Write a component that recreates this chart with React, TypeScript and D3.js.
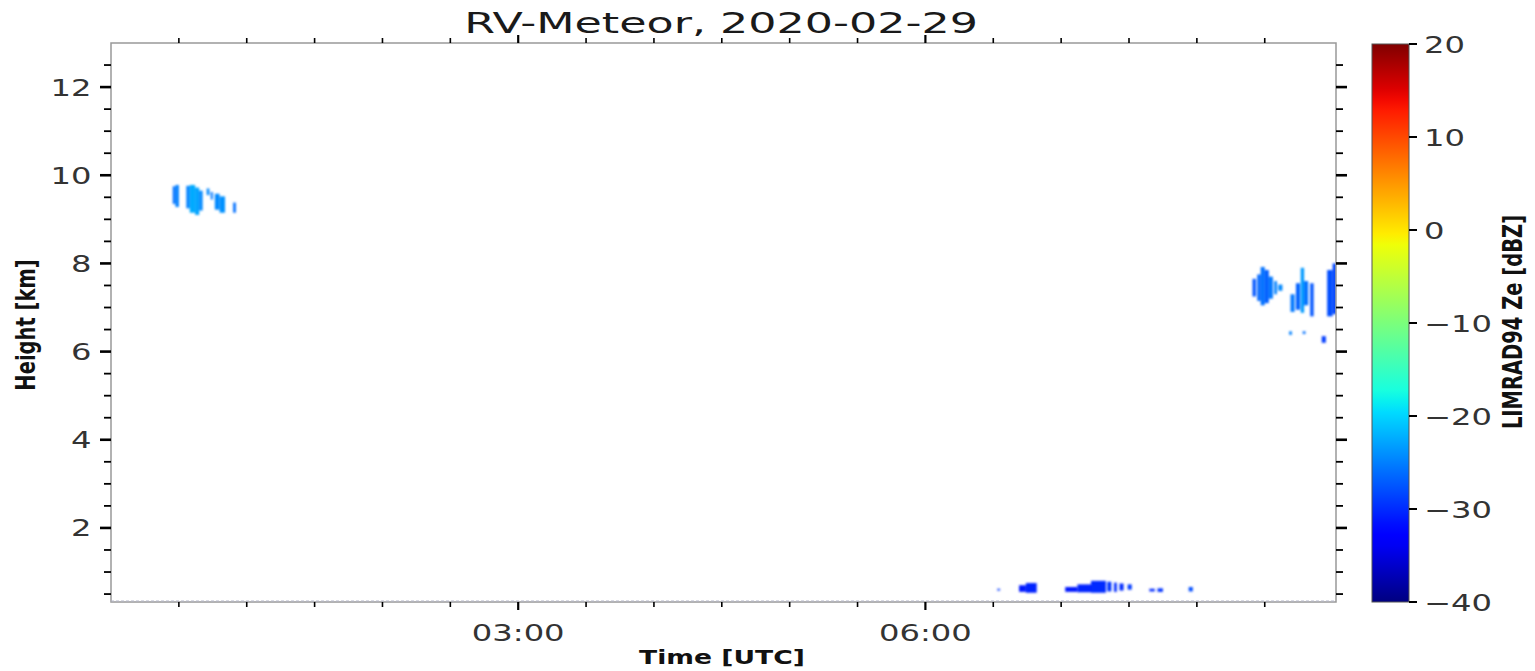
import React from 'react';
import * as d3 from 'd3';

// radar echoes: [start h, end h, base km, top km, Ze dBZ]
type Cell = [number, number, number, number, number];

const cirrusEarly: Cell[] = [
  [0.455, 0.475, 9.35, 9.75, -26],
  [0.475, 0.5, 9.28, 9.78, -25],
  [0.555, 0.58, 9.25, 9.76, -25],
  [0.58, 0.62, 9.15, 9.78, -22.5],
  [0.62, 0.65, 9.1, 9.72, -23],
  [0.65, 0.675, 9.2, 9.65, -24.5],
  [0.705, 0.725, 9.55, 9.7, -24.5],
  [0.735, 0.75, 9.45, 9.62, -25.5],
  [0.765, 0.8, 9.22, 9.58, -24.5],
  [0.8, 0.84, 9.15, 9.52, -24],
  [0.9, 0.92, 9.15, 9.38, -26],
];

const cirrusLate: Cell[] = [
  [8.41, 8.435, 7.25, 7.65, -27.5],
  [8.445, 8.47, 7.15, 7.75, -26.5],
  [8.47, 8.5, 7.05, 7.92, -26],
  [8.5, 8.53, 7.1, 7.85, -27],
  [8.53, 8.56, 7.2, 7.7, -25.5],
  [8.57, 8.59, 7.3, 7.6, -25],
  [8.6, 8.63, 7.38, 7.52, -24.5],
  [8.69, 8.72, 6.9, 7.3, -25.5],
  [8.73, 8.76, 6.95, 7.55, -27],
  [8.765, 8.79, 6.88, 7.9, -23.5],
  [8.79, 8.82, 7.05, 7.6, -26],
  [8.835, 8.86, 6.8, 7.55, -27.5],
  [8.96, 9.0, 6.8, 7.85, -28],
  [9.0, 9.03, 6.85, 8.0, -28.5],
  [8.68, 8.7, 6.38, 6.46, -25],
  [8.78, 8.8, 6.4, 6.46, -26],
  [8.92, 8.95, 6.2, 6.35, -29],
];

const boundaryLayer: Cell[] = [
  [6.53, 6.55, 0.58, 0.62, -29],
  [6.69, 6.74, 0.55, 0.7, -31],
  [6.74, 6.82, 0.53, 0.75, -30.5],
  [7.03, 7.12, 0.55, 0.66, -31],
  [7.12, 7.22, 0.54, 0.72, -30.5],
  [7.22, 7.33, 0.53, 0.8, -30],
  [7.34, 7.37, 0.56, 0.78, -29.5],
  [7.39, 7.41, 0.55, 0.76, -30],
  [7.43, 7.46, 0.58, 0.74, -30],
  [7.49, 7.52, 0.6, 0.72, -29],
  [7.65, 7.69, 0.56, 0.62, -30],
  [7.71, 7.75, 0.55, 0.63, -29.5],
  [7.94, 7.97, 0.56, 0.66, -28],
];

const xMajor = [3, 6];
const xMajorLabels = ['03:00', '06:00'];
const yMajor = [2, 4, 6, 8, 10, 12];
const cbTicks = [-40, -30, -20, -10, 0, 10, 20];

// matplotlib jet
const jetR = d3.scaleLinear().domain([0, 0.35, 0.66, 0.89, 1]).range([0, 0, 1, 1, 0.5]).clamp(true);
const jetG = d3.scaleLinear().domain([0, 0.125, 0.375, 0.64, 0.91, 1]).range([0, 0, 1, 1, 0, 0]).clamp(true);
const jetB = d3.scaleLinear().domain([0, 0.11, 0.34, 0.65, 1]).range([0.5, 1, 1, 0, 0]).clamp(true);
const jet = (t: number) => d3.rgb(jetR(t) * 255, jetG(t) * 255, jetB(t) * 255).formatHex();

const SX = 1.4; // horizontal stretch of the original figure

function SText({ x, y, size, anchor = 'middle', weight = 'normal', fill = '#333', rotate = 0, sx = SX, children }: any) {
  return (
    <text
      transform={`translate(${x},${y}) scale(${sx},1)${rotate ? ` rotate(${rotate})` : ''}`}
      fontSize={size}
      textAnchor={anchor}
      fontWeight={weight}
      fill={fill}
    >
      {children}
    </text>
  );
}

export default function App() {
  const W = 1535;
  const H = 671;
  const plot = { left: 111, right: 1336, top: 43, bottom: 602 };

  const x = d3.scaleLinear().domain([0, 9.025]).range([plot.left, plot.right]);
  const y = d3.scaleLinear().domain([0.32, 13.0]).range([plot.bottom, plot.top]);
  const cb = { left: 1372, right: 1409 };
  const zScale = d3.scaleLinear().domain([-40, 20]).range([plot.bottom, 44]);
  const zNorm = d3.scaleLinear().domain([-40, 20]).range([0, 1]).clamp(true);

  const xMinor = d3.range(0.5, 9.0, 0.5).filter(h => !xMajor.includes(h));
  const yMinor = d3.range(0.5, 13.0, 0.5).filter(v => v >= 0.32 && !yMajor.includes(v));

  const cells = [...cirrusEarly, ...cirrusLate, ...boundaryLayer];
  const gradStops = d3.range(0, 1.0001, 0.02);

  return (
    <svg
      width={W}
      height={H}
      style={{ position: 'absolute', left: 0, top: 0, display: 'block', background: '#fff' }}
      fontFamily="DejaVu Sans"
    >
      <defs>
        <linearGradient id="jet" x1="0" y1="1" x2="0" y2="0">
          {gradStops.map(t => (
            <stop key={t} offset={t} stopColor={jet(t)} />
          ))}
        </linearGradient>
        <filter id="soft" x="-20%" y="-20%" width="140%" height="140%">
          <feGaussianBlur stdDeviation="1.2 0.8" />
        </filter>
        <clipPath id="plotClip">
          <rect x={plot.left} y={plot.top} width={plot.right - plot.left} height={plot.bottom - plot.top} />
        </clipPath>
      </defs>

      {/* echoes */}
      <g clipPath="url(#plotClip)">
        <g filter="url(#soft)">
          {cells.map((c, i) => (
            <rect
              key={i}
              x={x(c[0])}
              y={y(c[3])}
              width={x(c[1]) - x(c[0])}
              height={y(c[2]) - y(c[3])}
              fill={jet(zNorm(c[4]))}
            />
          ))}
        </g>
      </g>

      {/* spines */}
      <rect
        x={plot.left}
        y={plot.top}
        width={plot.right - plot.left}
        height={plot.bottom - plot.top}
        fill="none"
        stroke="#999"
        strokeWidth={1.5}
      />
      <line x1={plot.left} x2={plot.right} y1={plot.bottom - 1} y2={plot.bottom - 1} stroke="#b4b6c8" strokeWidth={1} strokeDasharray="3,2" />

      {/* x ticks bottom and top */}
      {xMajor.map(h => (
        <g key={'xM' + h} stroke="#000" strokeWidth={2.2}>
          <line x1={x(h)} x2={x(h)} y1={plot.bottom} y2={plot.bottom + 8} />
          <line x1={x(h)} x2={x(h)} y1={plot.top} y2={plot.top - 8} />
        </g>
      ))}
      {xMinor.map(h => (
        <g key={'xm' + h} stroke="#000" strokeWidth={1.6}>
          <line x1={x(h)} x2={x(h)} y1={plot.bottom} y2={plot.bottom + 5} />
          <line x1={x(h)} x2={x(h)} y1={plot.top} y2={plot.top - 5} />
        </g>
      ))}
      {xMajor.map((h, i) => (
        <SText key={'xl' + h} x={x(h)} y={641} size={23}>
          {xMajorLabels[i]}
        </SText>
      ))}

      {/* y ticks left and right */}
      {yMajor.map(v => (
        <g key={'yM' + v} stroke="#000" strokeWidth={2.6}>
          <line x1={plot.left} x2={plot.left - 11} y1={y(v)} y2={y(v)} />
          <line x1={plot.right} x2={plot.right + 11} y1={y(v)} y2={y(v)} />
        </g>
      ))}
      {yMinor.map(v => (
        <g key={'ym' + v} stroke="#000" strokeWidth={1.8}>
          <line x1={plot.left} x2={plot.left - 7} y1={y(v)} y2={y(v)} />
          <line x1={plot.right} x2={plot.right + 7} y1={y(v)} y2={y(v)} />
        </g>
      ))}
      {yMajor.map(v => (
        <SText key={'yl' + v} x={91.5} y={y(v) + 8.5} size={23} anchor="end">
          {v}
        </SText>
      ))}

      {/* colorbar */}
      <rect
        x={cb.left}
        y={zScale(20)}
        width={cb.right - cb.left}
        height={zScale(-40) - zScale(20)}
        fill="url(#jet)"
        stroke="#555"
        strokeWidth={1}
      />
      {cbTicks.map(v => (
        <g key={'cb' + v}>
          <line x1={cb.right} x2={cb.right + 8} y1={zScale(v)} y2={zScale(v)} stroke="#000" strokeWidth={2} />
          <SText x={1424} y={zScale(v) + 8.5} size={23} anchor="start">
            {v < 0 ? `\u2212${Math.abs(v)}` : `${v}`}
          </SText>
        </g>
      ))}

      {/* labels */}
      <SText x={721} y={33} size={29} sx={1.53} fill="#1a1a1a">
        RV-Meteor, 2020-02-29
      </SText>
      <SText x={722} y={664} size={19} weight="bold" fill="#111">
        Time [UTC]
      </SText>
      <SText x={35} y={325} size={19.5} weight="bold" fill="#111" rotate={-90}>
        Height [km]
      </SText>
      <SText x={1522} y={322} size={19.5} weight="bold" fill="#111" rotate={-90}>
        LIMRAD94 Ze [dBZ]
      </SText>
    </svg>
  );
}
